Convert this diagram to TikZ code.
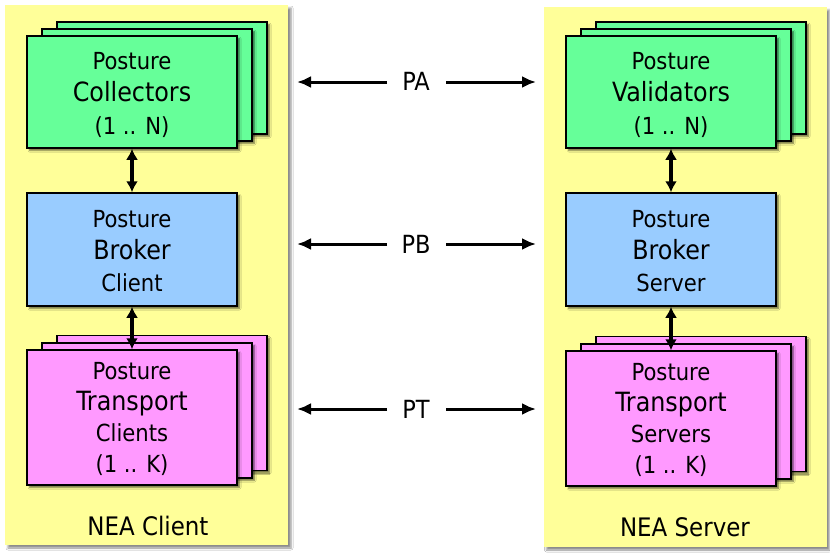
\documentclass[tikz,border=0pt]{standalone}
\usepackage{fontspec}
\setmainfont{DejaVu Sans Condensed}
\usetikzlibrary{arrows.meta,shadows.blur}
\definecolor{panelyellow}{HTML}{FFFF99}
\definecolor{boxgreen}{HTML}{66FF99}
\definecolor{boxblue}{HTML}{99CCFF}
\definecolor{boxpink}{HTML}{FF99FF}
\newcommand{\smtxt}{\fontsize{23.5}{32}\selectfont}
\newcommand{\bgtxt}{\fontsize{26.5}{32}\selectfont}
\newcommand{\topstrut}[1]{\rule{0pt}{#1}}
\begin{document}
\begin{tikzpicture}[x=1pt,y=-1pt,
  panel/.style={draw=none,fill=panelyellow,minimum width=283pt,minimum height=540pt,
    blur shadow={shadow xshift=3pt,shadow yshift=-3pt,shadow blur radius=2pt,shadow opacity=45}},
  card/.style={draw=black,line width=1.5pt,minimum width=210pt,inner sep=0pt,align=center,
    font=\smtxt,
    blur shadow={shadow xshift=2.5pt,shadow yshift=-2.5pt,shadow blur radius=1.5pt,shadow opacity=55}},
  greencard/.style={card,fill=boxgreen,minimum height=112pt},
  bluecard/.style={card,fill=boxblue,minimum height=113pt},
  pinkcard/.style={card,fill=boxpink,minimum height=135pt},
  vtip/.tip={Latex[length=11pt,width=12pt]},
  htip/.tip={Latex[length=14pt,width=12pt]},
  varrow/.style={line width=4pt,arrows={vtip-vtip}},
  harrow/.style={line width=3pt,arrows={-htip}},
  proto/.style={font=\fontsize{25}{28}\selectfont,inner sep=0pt},
  paneltitle/.style={font=\fontsize{25.5}{30}\selectfont,inner sep=0pt}
]
\useasboundingbox[fill=white] (0,0) rectangle (830,554);

% panels
\node[panel] (lpanel) at (146.5,275) {};
\node[panel] (rpanel) at (685,277) {};
\node[paneltitle] (lt) at (148,526) {NEA Client};
\node[paneltitle] (rt) at (685,527) {NEA Server};

% left stacks
\node[greencard] (lg3) at (162,78) {};
\node[greencard] (lg2) at (147,85) {};
\node[greencard,font=\fontsize{23.5}{32.5}\selectfont] (lg1) at (132,92) {\topstrut{23pt}Posture\\{\bgtxt Collectors}\\(1 .. N)};
\node[bluecard] (lb) at (132,249.5) {\topstrut{21pt}Posture\\{\bgtxt Broker}\\Client};
\node[pinkcard] (lp3) at (162,403) {};
\node[pinkcard] (lp2) at (147,410.5) {};
\node[pinkcard,font=\fontsize{23.5}{31}\selectfont] (lp1) at (132,417.5) {\topstrut{21pt}Posture\\{\bgtxt Transport}\\Clients\\(1 .. K)};

% right stacks
\node[greencard] (rg3) at (701,78) {};
\node[greencard] (rg2) at (686,85) {};
\node[greencard,font=\fontsize{23.5}{32.5}\selectfont] (rg1) at (671,92) {\topstrut{23pt}Posture\\{\bgtxt Validators}\\(1 .. N)};
\node[bluecard] (rb) at (671,249.5) {\topstrut{21pt}Posture\\{\bgtxt Broker}\\Server};
\node[pinkcard] (rp3) at (701,404) {};
\node[pinkcard] (rp2) at (686,411.5) {};
\node[pinkcard,font=\fontsize{23.5}{31}\selectfont] (rp1) at (671,418.5) {\topstrut{21pt}Posture\\{\bgtxt Transport}\\Servers\\(1 .. K)};

% vertical arrows
\draw[varrow] (lg1.south) -- (lb.north);
\draw[varrow] (lb.south) -- (lp1.north);
\draw[varrow] (rg1.south) -- (rb.north);
\draw[varrow] (rb.south) -- (rp1.north);

% protocol labels
\node[proto] (pa) at (416,81.5) {PA};
\node[proto] (pb) at (416,244) {PB};
\node[proto] (pt) at (416,409) {PT};
\coordinate (paL) at (297,82); \coordinate (paR) at (536,82);
\coordinate (pbL) at (297,244); \coordinate (pbR) at (536,244);
\coordinate (ptL) at (297,409); \coordinate (ptR) at (536,409);
\coordinate (paLs) at (387,82); \coordinate (paRs) at (446,82);
\coordinate (pbLs) at (387,244); \coordinate (pbRs) at (446,244);
\coordinate (ptLs) at (387,409); \coordinate (ptRs) at (446,409);
\draw[harrow] (paLs) -- (paL);
\draw[harrow] (paRs) -- (paR);
\draw[harrow] (pbLs) -- (pbL);
\draw[harrow] (pbRs) -- (pbR);
\draw[harrow] (ptLs) -- (ptL);
\draw[harrow] (ptRs) -- (ptR);
\end{tikzpicture}
\end{document}
